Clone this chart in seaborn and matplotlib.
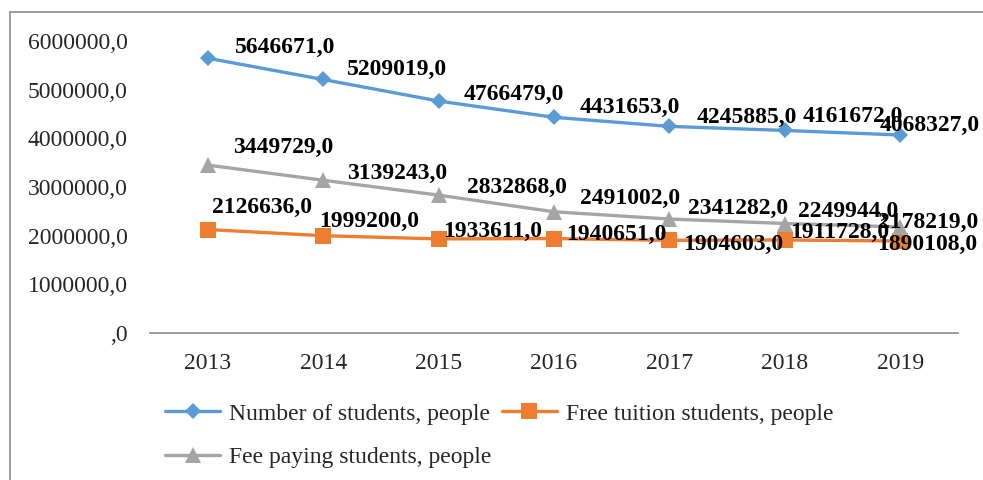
import matplotlib
matplotlib.use("Agg")
import matplotlib.pyplot as plt
import seaborn as sns
import pandas as pd
from matplotlib.lines import Line2D
from matplotlib.ticker import FuncFormatter

years = [2013, 2014, 2015, 2016, 2017, 2018, 2019]
total_students = [5646671, 5209019, 4766479, 4431653, 4245885, 4161672, 4068327]
free_tuition = [2126636, 1999200, 1933611, 1940651, 1904603, 1911728, 1890108]
fee_paying = [3449729, 3139243, 2832868, 2491002, 2341282, 2249944, 2178219]
series_names = ["Number of students, people", "Free tuition students, people",
                "Fee paying students, people"]
y_ticks = [0, 1000000, 2000000, 3000000, 4000000, 5000000, 6000000]

# label offsets in image pixels (dx right, dy down) from each point to label centre
off_total = [(77, -13), (74, -13), (75, -9), (76, -12), (77, -11), (68, -17), (29, -12)]
off_free = [(54, -25), (46, -17), (54, -10), (62, -7), (64, 2), (55, -10), (27, 1)]
off_fee = [(75, -20), (74, -9), (78, -10), (76, -16), (69, -13), (63, -15), (28, -7)]

sns.set_style("white")
plt.rcParams["font.family"] = ["Liberation Serif", "DejaVu Serif"]
FS = 17

fig = plt.figure(figsize=(9.83, 4.8), dpi=100)
ax = fig.add_axes([150 / 983, 147 / 480, 808 / 983, 292 / 480])

colors = ["#5B9BD5", "#ED7D31", "#A5A5A5"]
markers = ["D", "s", "^"]
msizes = [8.5, 12, 12]
data = [total_students, free_tuition, fee_paying]
offsets = [off_total, off_free, off_fee]

for vals, name, c, m, ms in zip(data, series_names, colors, markers, msizes):
    df = pd.DataFrame({"year": years, "value": vals})
    sns.lineplot(data=df, x="year", y="value", ax=ax, color=c, marker=m,
                 markersize=ms, markeredgewidth=0, linewidth=2.4, label=name,
                 legend=False)

for vals, offs in zip(data, offsets):
    for yr, v, (dx, dy) in zip(years, vals, offs):
        ax.annotate(f"{v},0", (yr, v), xytext=(dx, -(dy + 8)),
                    textcoords="offset pixels", ha="center", va="baseline",
                    fontsize=FS, fontweight="bold", color="black", zorder=10,
                    annotation_clip=False)

ax.set_xlim(2012.5, 2019.5)
ax.set_ylim(0, 6000000)
ax.set_yticks(y_ticks)
ax.yaxis.set_major_formatter(FuncFormatter(lambda v, p: f"{int(v)},0" if v else ",0"))
ax.set_xticks(years)
ax.set_xticklabels([str(y) for y in years])
ax.tick_params(axis="y", length=0, pad=16, labelsize=FS)
ax.tick_params(axis="x", length=0, pad=14.5, labelsize=FS)
ax.set_xlabel("")
ax.set_ylabel("")
for s in ["left", "right", "top"]:
    ax.spines[s].set_visible(False)
ax.spines["bottom"].set_color("#8c8c8c")
ax.spines["bottom"].set_linewidth(1.2)

h = [Line2D([], [], color=c, marker=m, markersize=ms, markeredgewidth=0, linewidth=2.4)
     for c, m, ms in zip(colors, markers, msizes)]
order = [0, 2, 1]
fig.legend([h[i] for i in order], [series_names[i] for i in order], ncol=2,
           loc="upper left", bbox_to_anchor=(165 / 983, 1 - 403 / 480),
           frameon=False, fontsize=FS, borderpad=0, borderaxespad=0,
           handlelength=2.35, handletextpad=0.35, columnspacing=0.45,
           labelspacing=0.93)

# outer chart border (top and left visible)
fig.add_artist(Line2D([10 / 983, 10 / 983], [0, 1 - 12 / 480], transform=fig.transFigure,
                      color="#8c8c8c", linewidth=1.2))
fig.add_artist(Line2D([10 / 983, 1], [1 - 12 / 480, 1 - 12 / 480], transform=fig.transFigure,
                      color="#8c8c8c", linewidth=1.2))

fig.savefig("out.png", dpi=100)
